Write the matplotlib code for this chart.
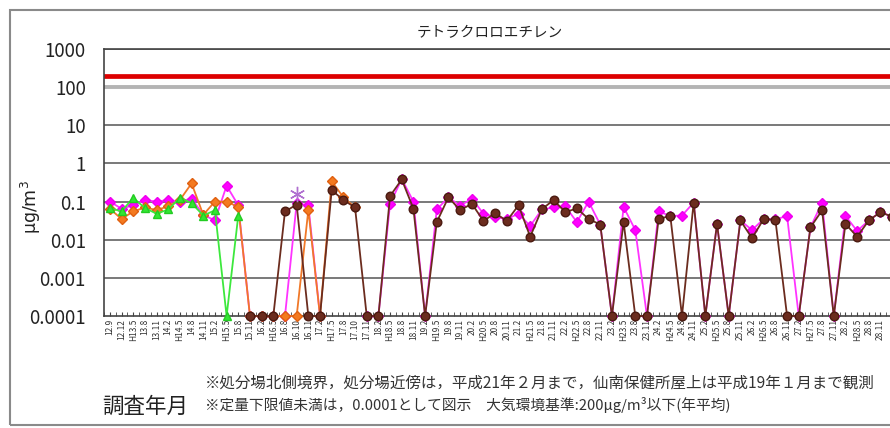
import numpy as np
import matplotlib
matplotlib.use('Agg')
import matplotlib.pyplot as plt
from matplotlib.patches import Rectangle
from matplotlib.ticker import FixedLocator

JP = ['Noto Sans CJK JP', 'DejaVu Sans']
plt.rcParams['font.family'] = JP

N = None
# survey dates (tick labels, 平成 year.month)
dates = ["12.9", "12.12", "H13.5", "13.8", "13.11", "14.2", "H14.5", "14.8", "14.11", "15.2",
         "H15.5", "15.8", "15.11", "16.2", "H16.5", "16.8", "16.10", "16.11", "17.2", "H17.5",
         "17.8", "17.10", "17.11", "18.2", "H18.5", "18.8", "18.11", "19.2", "H19.5", "19.8",
         "19.11", "20.2", "H20.5", "20.8", "20.11", "21.2", "H21.5", "21.8", "21.11", "22.2",
         "H22.5", "22.8", "22.11", "23.2", "H23.5", "23.8", "23.11", "24.2", "H24.5", "24.8",
         "24.11", "25.2", "H25.5", "25.8", "25.11", "26.2", "H26.5", "26.8", "26.11", "27.2",
         "H27.5", "27.8", "27.11", "28.2", "H28.5", "28.8", "28.11", "29.2"]

green = [0.068, 0.055, 0.125, 0.068, 0.048, 0.062, 0.125, 0.092, 0.043, 0.059,
         0.0001, 0.043, N, N, N, N, N, N, N, N,
         N, N, N, N, N, N, N, N, N, N,
         N, N, N, N, N, N, N, N, N, N,
         N, N, N, N, N, N, N, N, N, N,
         N, N, N, N, N, N, N, N, N, N,
         N, N, N, N, N, N, N, N]

orange = [0.065, 0.035, 0.055, 0.07, 0.06, 0.075, 0.11, 0.30, 0.045, 0.10,
          0.10, 0.072, 0.0001, 0.0001, 0.0001, 0.0001, 0.0001, 0.06, 0.0001, 0.34,
          0.13, 0.07, N, N, N, N, N, N, N, N,
          N, N, N, N, N, N, N, N, N, N,
          N, N, N, N, N, N, N, N, N, N,
          N, N, N, N, N, N, N, N, N, N,
          N, N, N, N, N, N, N, N]

magenta = [0.10, 0.065, 0.08, 0.11, 0.10, 0.11, 0.10, 0.12, 0.045, 0.032,
           0.26, 0.08, 0.0001, 0.0001, 0.0001, 0.0001, 0.09, 0.08, 0.0001, N,
           N, N, 0.0001, 0.0001, 0.088, 0.39, 0.10, 0.0001, 0.062, 0.13,
           0.077, 0.12, 0.048, 0.04, 0.035, 0.048, 0.023, 0.062, 0.07, 0.075,
           0.029, 0.10, 0.025, 0.0001, 0.072, 0.018, 0.0001, 0.055, 0.042, 0.043,
           0.094, 0.0001, 0.026, 0.0001, 0.032, 0.018, 0.035, 0.034, 0.042, 0.0001,
           0.021, 0.094, 0.0001, 0.042, 0.017, 0.032, 0.053, 0.04]

brown = [N, N, N, N, N, N, N, N, N, N,
         N, N, 0.0001, 0.0001, 0.0001, 0.055, 0.083, 0.0001, 0.0001, 0.20,
         0.11, 0.07, 0.0001, 0.0001, 0.14, 0.38, 0.065, 0.0001, 0.029, 0.13,
         0.059, 0.088, 0.031, 0.05, 0.031, 0.08, 0.012, 0.063, 0.11, 0.053,
         0.066, 0.035, 0.025, 0.0001, 0.029, 0.0001, 0.0001, 0.035, 0.042, 0.0001,
         0.094, 0.0001, 0.026, 0.0001, 0.032, 0.011, 0.035, 0.033, 0.0001, 0.0001,
         0.021, 0.059, 0.0001, 0.026, 0.012, 0.032, 0.053, 0.04]

star = [N] * 16 + [0.16] + [N] * 51

standard = 200   # 大気環境基準
guide = 100

def arr(v):
    return np.array([np.nan if a is None else a for a in v], dtype=float)

x = np.arange(len(dates))

fig = plt.figure(figsize=(8.9, 4.28), dpi=100)
W, H = 890, 428

# outer frame
fig.patches.append(Rectangle((10 / W, 1 - 425 / H), 900 / W, 415 / H, transform=fig.transFigure,
                             fill=False, edgecolor='#8a8a8a', lw=1.5))

ax = fig.add_axes([104 / W, 1 - 316 / H, (898 - 104) / W, (316 - 49) / H])
ax.set_yscale('log')
ax.set_ylim(1e-4, 1e3)
ax.set_xlim(-0.5, 67.5)

yt = [1e-4, 1e-3, 1e-2, 1e-1, 1, 10, 100, 1000]
ax.yaxis.set_major_locator(FixedLocator(yt))
ax.yaxis.set_minor_locator(FixedLocator([]))
ax.set_yticklabels(["0.0001", "0.001", "0.01", "0.1", "1", "10", "100", "1000"], fontsize=13.5, color='#222')
ax.tick_params(axis='y', length=0, pad=13)
for v in yt[1:]:
    ax.axhline(v, color='#555555', lw=1.1, zorder=1)

ax.axhline(guide, color='#b4b4b4', lw=2.8, zorder=2)
ax.axhline(standard, color='#dd0000', lw=3.4, zorder=2)

ax.spines['right'].set_visible(False)
for s in ['left', 'bottom', 'top']:
    ax.spines[s].set_color('#444444')
    ax.spines[s].set_linewidth(1.2)

nshow = 67  # categories whose labels fall inside the picture
ax.set_xticks(x[:nshow])
ax.set_xticklabels(dates[:nshow], rotation=90, fontsize=6, color='#333', va='top', ha='center')
ax.xaxis.set_minor_locator(FixedLocator(np.arange(-0.5, 67.6, 1)))
ax.tick_params(axis='x', which='both', direction='in', length=3, color='#444', pad=2)

kw = dict(lw=1.3, clip_on=False)
ax.plot(x, arr(magenta), color='#ff33ff', marker='D', ms=5.5, mfc='#ff00ff', mec='#ee00ee', zorder=4, **kw)
ax.plot(x, arr(orange), color='#f07828', marker='D', ms=5.5, mfc='#f47a20', mec='#e06010', zorder=5, **kw)
ax.plot(x, arr(green), color='#3de83d', marker='^', ms=6, mfc='#33e633', mec='#22cc22', zorder=6, **kw)
ax.plot(x, arr(brown), color='#6b2c1e', marker='o', ms=6.2, mfc='#6b2c1e', mec='#4a1a10', zorder=7, **kw)
ax.plot(x, arr(star), ls='none', marker=(6, 2, 0), ms=11, mec='#b070d0', mew=1.0, zorder=8, clip_on=False)

fig.text(490 / W, 1 - 33 / H, "テトラクロロエチレン", fontsize=10.5, ha='center', va='center', color='#222')
fig.text(31 / W, 1 - 207 / H, "μg/m$^3$", fontsize=12.5, rotation=90, ha='center', va='center', color='#222',
         family=['DejaVu Sans'])
fig.text(145 / W, 1 - 407 / H, "調査年月", fontsize=15.5, ha='center', va='center', color='#222')
fig.text(205 / W, 1 - 383 / H,
         "※処分場北側境界，処分場近傍は，平成21年２月まで，仙南保健所屋上は平成19年１月まで観測",
         fontsize=11.2, ha='left', va='center', color='#333')
fig.text(205 / W, 1 - 405 / H,
         "※定量下限値未満は，0.0001として図示　大気環境基準:200μg/m³以下(年平均)",
         fontsize=10.6, ha='left', va='center', color='#333')

fig.savefig('out.png', dpi=100)
